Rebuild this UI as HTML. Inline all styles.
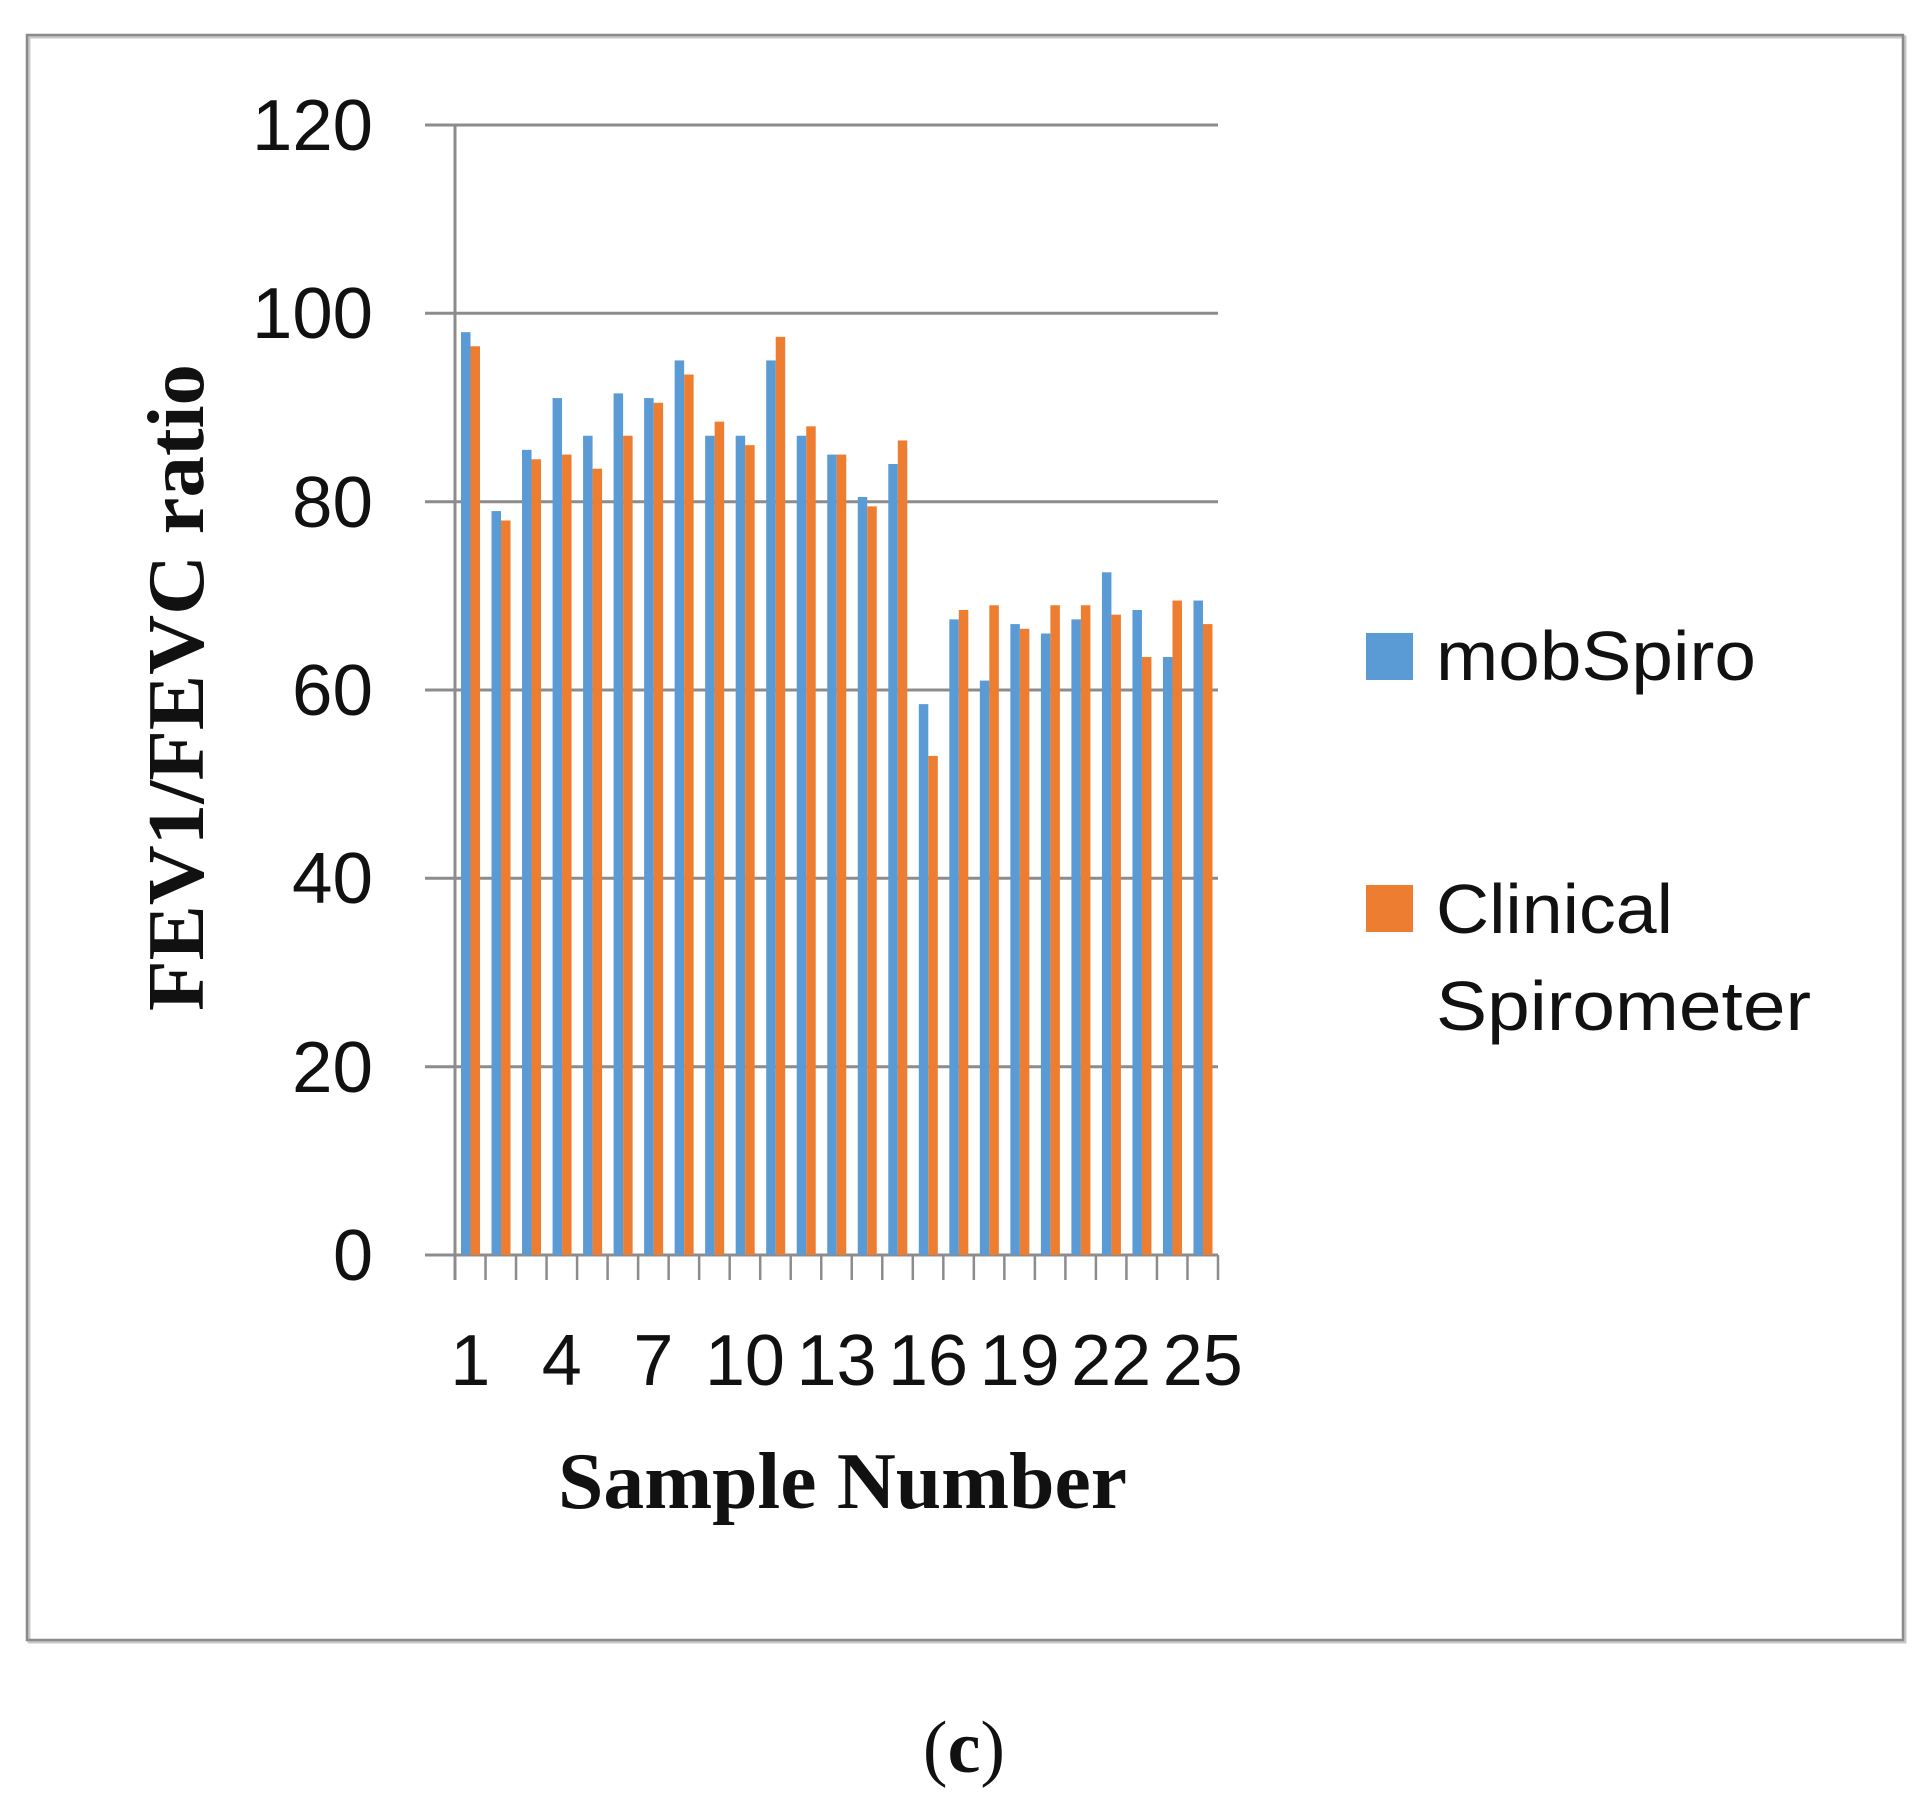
<!DOCTYPE html>
<html><head><meta charset="utf-8"><style>html,body{margin:0;padding:0;background:#fff;}svg{display:block}</style></head>
<body>
<svg width="1931" height="1801" viewBox="0 0 1931 1801" xmlns="http://www.w3.org/2000/svg">
<rect x="0" y="0" width="1931" height="1801" fill="#fff"/>
<rect x="29" y="37" width="1876" height="1605" fill="none" stroke="#c8c8c8" stroke-width="3"/>
<rect x="27" y="35" width="1876" height="1605" fill="none" stroke="#8a8a8a" stroke-width="2.5"/>
<g stroke="#8c8c8c" stroke-width="3">
<line x1="425" y1="125" x2="1218" y2="125"/>
<line x1="425" y1="313.3" x2="1218" y2="313.3"/>
<line x1="425" y1="501.7" x2="1218" y2="501.7"/>
<line x1="425" y1="690" x2="1218" y2="690"/>
<line x1="425" y1="878.3" x2="1218" y2="878.3"/>
<line x1="425" y1="1066.7" x2="1218" y2="1066.7"/>
<line x1="425" y1="1255" x2="1218" y2="1255"/>
<line x1="455" y1="125" x2="455" y2="1280"/>
</g>
<g id="bars"></g>
<g id="ticks" stroke="#8c8c8c" stroke-width="2.5"></g>
<g font-family="'Liberation Sans',sans-serif" font-size="72" fill="#111" text-anchor="end" lengthAdjust="spacingAndGlyphs">
<text x="373" y="150" textLength="121" lengthAdjust="spacingAndGlyphs">120</text>
<text x="373" y="338" textLength="121" lengthAdjust="spacingAndGlyphs">100</text>
<text x="373" y="527" textLength="81" lengthAdjust="spacingAndGlyphs">80</text>
<text x="373" y="715" textLength="81" lengthAdjust="spacingAndGlyphs">60</text>
<text x="373" y="903" textLength="81" lengthAdjust="spacingAndGlyphs">40</text>
<text x="373" y="1092" textLength="81" lengthAdjust="spacingAndGlyphs">20</text>
<text x="373" y="1280">0</text>
</g>
<g id="xl" font-family="'Liberation Sans',sans-serif" font-size="72" fill="#111" text-anchor="middle"></g>
<text x="558" y="1508" font-family="'Liberation Serif',serif" font-weight="bold" font-size="80" fill="#111" textLength="569" lengthAdjust="spacingAndGlyphs">Sample Number</text>
<text transform="translate(203,1011) rotate(-90)" font-family="'Liberation Serif',serif" font-weight="bold" font-size="80" fill="#111" textLength="647" lengthAdjust="spacingAndGlyphs">FEV1/FEVC ratio</text>
<rect x="1366" y="633" width="47" height="47" fill="#5b9bd5"/>
<rect x="1366" y="885" width="47" height="47" fill="#ed7d31"/>
<g font-family="'Liberation Sans',sans-serif" font-size="70" fill="#111">
<text x="1436" y="680" textLength="320" lengthAdjust="spacingAndGlyphs">mobSpiro</text>
<text x="1436" y="933" textLength="237" lengthAdjust="spacingAndGlyphs">Clinical</text>
<text x="1436" y="1030" textLength="375" lengthAdjust="spacingAndGlyphs">Spirometer</text>
</g>
<text x="964" y="1772" text-anchor="middle" font-family="'Liberation Serif',serif" font-size="74" fill="#111"><tspan>(</tspan><tspan font-weight="bold">c</tspan><tspan>)</tspan></text>
<script>
var b=[98,79,85.5,91,87,91.5,91,95,87,87,95,87,85,80.5,84,58.5,67.5,61,67,66,67.5,72.5,68.5,63.5,69.5];
var o=[96.5,78,84.5,85,83.5,87,90.5,93.5,88.5,86,97.5,88,85,79.5,86.5,53,68.5,69,66.5,69,69,68,63.5,69.5,67];
var g=document.getElementById('bars'),t=document.getElementById('ticks'),xl=document.getElementById('xl'),ns='http://www.w3.org/2000/svg';
var x0=455,w=(1218-455)/25,y0=1255,s=(1255-125)/120;
function r(x,v,c){var e=document.createElementNS(ns,'rect');e.setAttribute('x',x);e.setAttribute('y',y0-v*s);e.setAttribute('width',9.5);e.setAttribute('height',v*s);e.setAttribute('fill',c);g.appendChild(e);}
for(var i=0;i<25;i++){var cx=x0+i*w;r(cx+6,b[i],'#5b9bd5');r(cx+15.5,o[i],'#ed7d31');
 if(i%3==0){var tx=document.createElementNS(ns,'text');tx.setAttribute('x',cx+w/2);tx.setAttribute('y',1385);var lab=String(i+1);tx.textContent=lab;if(lab.length>1){tx.setAttribute('textLength',80);tx.setAttribute('lengthAdjust','spacingAndGlyphs');}xl.appendChild(tx);}}
for(var i=0;i<=25;i++){var l=document.createElementNS(ns,'line');var xx=x0+i*w;l.setAttribute('x1',xx);l.setAttribute('x2',xx);l.setAttribute('y1',1255);l.setAttribute('y2',1280);t.appendChild(l);}
</script>
</svg>
</body></html>
